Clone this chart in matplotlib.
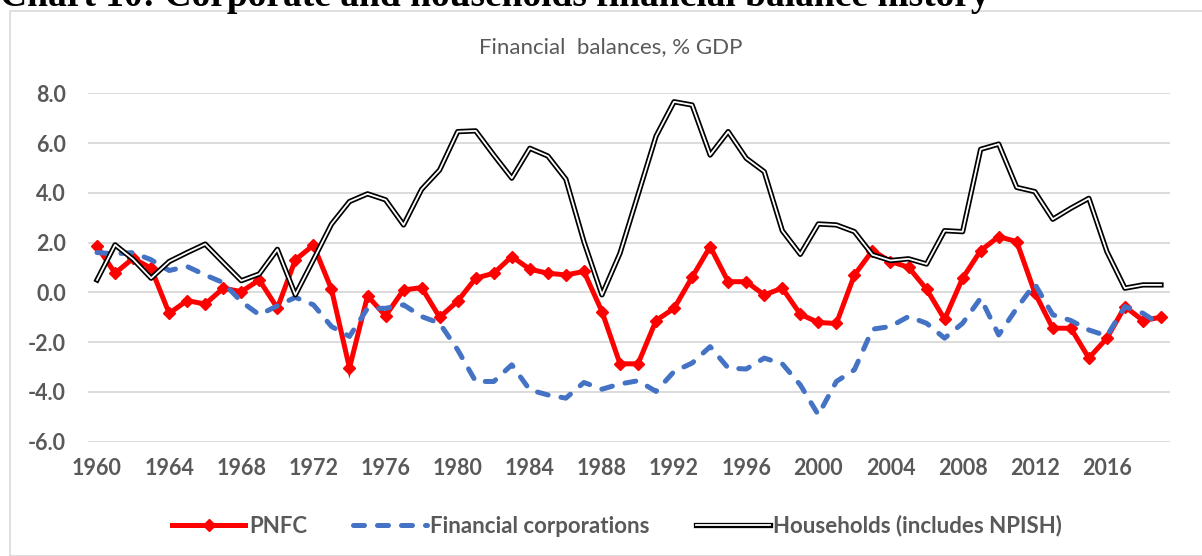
import numpy as np
import matplotlib
matplotlib.use("Agg")
from matplotlib import pyplot as plt
from matplotlib import patheffects as pe
from matplotlib.patches import Rectangle

years = np.arange(1960, 2020)

pnfc = [1.85, 0.77, 1.37, 0.97, -0.84, -0.33, -0.47, 0.17, 0.03, 0.50,
        -0.63, 1.31, 1.90, 0.13, -3.04, -0.14, -0.94, 0.10, 0.19, -1.00,
        -0.35, 0.57, 0.77, 1.44, 0.93, 0.77, 0.70, 0.84, -0.77, -2.87,
        -2.87, -1.13, -0.64, 0.61, 1.84, 0.43, 0.43, -0.10, 0.17, -0.88,
        -1.21, -1.25, 0.70, 1.68, 1.24, 1.01, 0.13, -1.08, 0.57, 1.68,
        2.24, 2.04, -0.01, -1.44, -1.44, -2.64, -1.84, -0.57, -1.13, -1.00]

fin_corp = [1.60, 1.55, 1.60, 1.31, 0.88, 1.04, 0.70, 0.39, -0.37, -0.90,
            -0.54, -0.20, -0.50, -1.37, -1.77, -0.64, -0.64, -0.50, -0.97, -1.24,
            -2.31, -3.58, -3.58, -2.91, -3.92, -4.12, -4.25, -3.62, -3.89, -3.68,
            -3.55, -3.98, -3.18, -2.84, -2.18, -3.04, -3.08, -2.64, -2.87, -3.72,
            -4.92, -3.58, -3.11, -1.48, -1.37, -0.97, -1.24, -1.84, -1.24, -0.23,
            -1.71, -0.64, 0.34, -0.90, -1.13, -1.51, -1.75, -0.57, -0.84, -1.31]

households = [0.50, 1.91, 1.33, 0.57, 1.24, 1.60, 1.94, 1.20, 0.47, 0.74,
              1.73, -0.10, 1.31, 2.74, 3.65, 3.96, 3.72, 2.71, 4.14, 4.92,
              6.46, 6.49, 5.52, 4.59, 5.79, 5.48, 4.55, 2.04, -0.10, 1.57,
              3.92, 6.28, 7.66, 7.53, 5.52, 6.46, 5.39, 4.85, 2.48, 1.53,
              2.75, 2.71, 2.44, 1.51, 1.28, 1.35, 1.14, 2.48, 2.44, 5.75,
              5.96, 4.22, 4.05, 2.94, 3.38, 3.78, 1.64, 0.17, 0.30, 0.30]

tick_years = np.arange(1960, 2020, 4)
y_ticks = np.arange(-6, 9, 2)

W, H = 1202, 556
grey = "#595959"
font = "Lato"

fig = plt.figure(figsize=(W / 100, H / 100), dpi=100)

# outer chart border (runs off the right and bottom edges)
fig.patches.append(Rectangle((10 / W, 0), 2, 1 - 11 / H, transform=fig.transFigure,
                             facecolor="none", edgecolor="#d9d9d9", linewidth=1.2))

# page caption, cut off at the top like in the source page
fig.text(0, 1 - 6 / H, "Chart 10: Corporate and households financial balance history",
         family="Liberation Serif", fontweight="bold", fontsize=27,
         ha="left", va="baseline", color="black")

ax = fig.add_axes([88 / W, 1 - 441.7 / H, (1170 - 88) / W, (441.7 - 93.3) / H])

ax.plot(years, pnfc, color="#ff0000", linewidth=3.6, marker="D", markersize=6.5,
        solid_joinstyle="miter", label="PNFC", zorder=3)
ax.plot(years, fin_corp, color="#4472c4", linewidth=3.6, dashes=(2.2, 2.6),
        dash_capstyle="round", label="Financial corporations", zorder=4)
ax.plot(years, households, color="white", linewidth=1.3, label="Households (includes NPISH)",
        zorder=5, path_effects=[pe.Stroke(linewidth=3.8, foreground="black"), pe.Normal()])

ax.set_xlim(1959.5, 2019.5)
ax.set_ylim(-6, 8)
ax.set_xticks(tick_years)
ax.set_xticklabels([str(y) for y in tick_years])
ax.set_yticks(y_ticks)
ax.set_yticklabels([f"{v:.1f}" for v in y_ticks])
ax.tick_params(length=0, labelsize=15.5, labelcolor=grey)
ax.tick_params(axis="y", pad=16)
ax.tick_params(axis="x", pad=12)
for lab in ax.get_xticklabels() + ax.get_yticklabels():
    lab.set_family(font)
    lab.set_fontweight("bold")

ax.grid(True, axis="y", color="#d9d9d9", linewidth=1.3)
ax.set_axisbelow(True)
for s in ax.spines.values():
    s.set_visible(False)

fig.text(611 / W, 1 - 47 / H, "Financial  balances, % GDP", family=font,
         fontsize=16, color=grey, ha="center", va="center")

fig.legend(loc="center", bbox_to_anchor=(617 / W, 1 - 526 / H), ncol=3, frameon=False,
           prop={"family": font, "weight": "bold", "size": 16}, labelcolor=grey,
           handlelength=3.3, columnspacing=2.1, handletextpad=0.15)

fig.savefig("out.png", dpi=100)
